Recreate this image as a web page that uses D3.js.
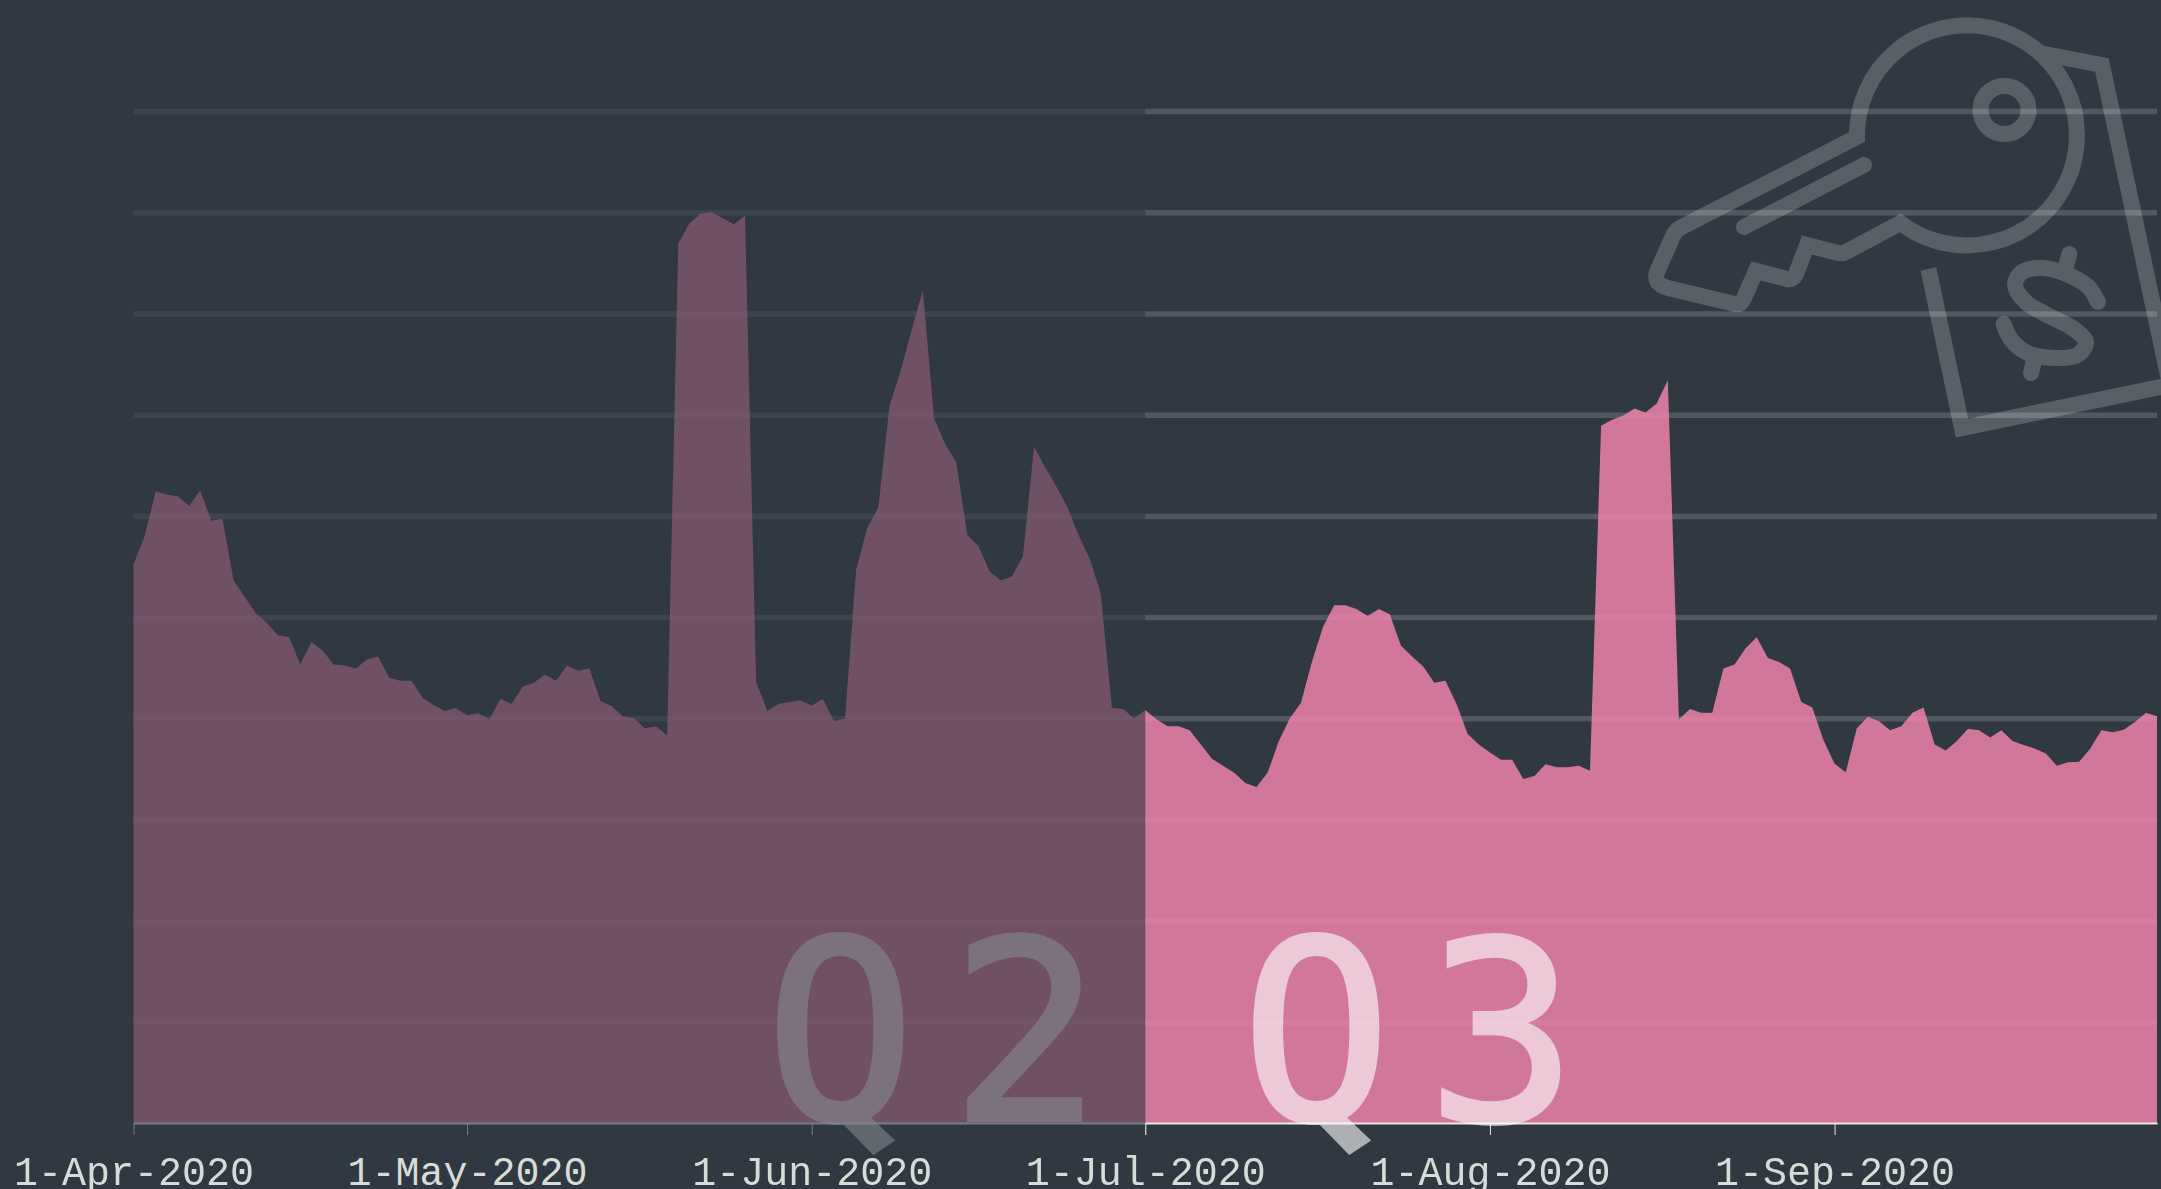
<!DOCTYPE html>
<html>
<head>
<meta charset="utf-8">
<script src="https://cdnjs.cloudflare.com/ajax/libs/d3/7.8.5/d3.min.js"></script>
<style>
html,body{margin:0;padding:0;background:#303842;overflow:hidden;}
svg{display:block;}
</style>
</head>
<body>
<svg id="chart" width="2161" height="1189"></svg>
<script>
const q2Start = "2020-04-01";
const q3Start = "2020-07-01";
const q3End = "2020-09-30";
const tickDates = ["2020-04-01","2020-05-01","2020-06-01","2020-07-01","2020-08-01","2020-09-01"];
const gridValues = [10,20,30,40,50,60,70,80,90,100];
const q2Values = [55.2,58.0,62.4,62.1,61.9,61.0,62.5,59.5,59.7,53.6,52.0,50.4,49.4,48.2,48.0,45.3,47.5,46.7,45.3,45.2,44.9,45.8,46.1,44.0,43.7,43.7,42.0,41.3,40.7,41.0,40.3,40.5,39.9,41.9,41.4,43.1,43.5,44.3,43.7,45.2,44.7,44.9,41.7,41.2,40.2,40.0,39.0,39.2,38.3,86.9,88.9,89.85,90.0,89.4,88.8,89.66,43.6,40.7,41.4,41.6,41.75,41.25,41.9,39.7,40.0,54.7,58.8,60.85,70.9,74.3,78.4,82.3,69.65,67.1,65.3,58.1,57.0,54.5,53.6,54.0,56.0,66.8,64.8,62.9,60.85,58.1,55.8,52.3,41.0,40.9,40.0,40.8];
const q3Values = [40.8,39.9,39.2,39.2,38.8,37.4,36.0,35.3,34.6,33.6,33.2,34.6,37.7,40.0,41.5,45.6,49.05,51.15,51.15,50.8,50.1,50.8,50.27,47.15,46.1,45.1,43.5,43.7,41.4,38.45,37.4,36.6,35.9,35.9,34.0,34.3,35.45,35.15,35.15,35.3,34.8,68.9,69.5,69.9,70.6,70.2,71.1,73.4,39.9,40.9,40.55,40.55,44.9,45.3,46.9,48.0,45.95,45.55,44.9,41.6,41.05,37.85,35.5,34.65,39.0,40.15,39.7,38.8,39.2,40.55,41.05,37.4,36.8,37.75,38.95,38.8,38.1,38.8,37.75,37.35,37.0,36.5,35.3,35.65,35.7,37.0,38.8,38.6,38.85,39.6,40.55,40.2];
const q2Label = "Q2";
const q3Label = "Q3";
const pink = "#ee82ac";
const keyStroke = 16;

const parse = d3.utcParse("%Y-%m-%d");
const fmt = d => `${d.getUTCDate()}-${d3.utcFormat("%b-%Y")(d)}`;
const x = d3.scaleUtc().domain([parse(q2Start), parse(q3End)]).range([133.5, 2157]);
const y = d3.scaleLinear().domain([0, 100]).range([1123, 111]);
const xQ2 = x.copy().domain([parse(q2Start), parse(q3Start)]).range([x(parse(q2Start)), x(parse(q3Start))]);
const xQ3 = x.copy().domain([parse(q3Start), parse(q3End)]).range([x(parse(q3Start)), x(parse(q3End))]);

const rows = (start, vals) => vals.map((v, i) => ({date: d3.utcDay.offset(parse(start), i), v}));
const area = d3.area().x(d => x(d.date)).y0(y(0)).y1(d => y(d.v));
const svg = d3.select("#chart");

function quarter(opacity, start, vals, scale, label, labelX) {
  const g = svg.append("g").attr("opacity", opacity);
  g.append("g").attr("transform", "translate(0,0.6)").selectAll("line").data(gridValues).join("line")
    .attr("x1", scale.range()[0]).attr("x2", scale.range()[1])
    .attr("y1", d => y(d)).attr("y2", d => y(d))
    .attr("stroke", "#fff").attr("stroke-opacity", 0.165).attr("stroke-width", 5.5);
  g.append("path").datum(rows(start, vals)).attr("d", area).attr("fill", pink).attr("fill-opacity", 0.85);
  const ax = d3.axisBottom(scale)
    .tickValues(tickDates.map(parse).filter(d => d >= scale.domain()[0] && d <= scale.domain()[1]))
    .tickSize(12).tickSizeOuter(0).tickFormat("");
  const axg = g.append("g").attr("transform", `translate(0,${y(0)})`).call(ax);
  axg.select(".domain").attr("stroke", "#e8e8e8").attr("stroke-width", 2);
  axg.selectAll(".tick line").attr("stroke", "#e8e8e8").attr("stroke-width", 1);
  g.append("text").text(label)
    .attr("x", labelX).attr("y", 1120)
    .attr("fill", "#fff").attr("stroke", "#fff").attr("stroke-width", 4).attr("opacity", 0.6)
    .attr("font-family", "'DejaVu Sans Mono', monospace")
    .attr("letter-spacing", 35)
    .attr("font-size", 250);
}

quarter(0.4, q2Start, q2Values, xQ2, q2Label, 765);
quarter(1, q3Start, q3Values, xQ3, q3Label, 1241);

// tick labels
const labelAxis = d3.axisBottom(x).tickValues(tickDates.map(parse)).tickSize(0).tickFormat(fmt);
const lg = svg.append("g").attr("transform", `translate(0,${y(0)})`).call(labelAxis);
lg.select(".domain").remove();
lg.selectAll("text").attr("y", 0).attr("dy", 0)
  .attr("transform", "translate(0,62)")
  .attr("fill", "#d8dcd8")
  .attr("font-family", "'Liberation Mono', monospace")
  .attr("font-size", 40);

// key and price-tag icon
const icon = svg.append("g").attr("fill", "none").attr("stroke", "#fff").attr("opacity", 0.2).attr("stroke-width", keyStroke);
icon.append("path").attr("stroke-linejoin", "miter")
  .attr("d", "M1857,137 L1680,228 Q1675,231 1673,236 L1657,272 Q1653,284 1668,288 L1735,304 Q1741,305 1744,298 L1756,271 L1787,279 Q1793,280 1796,274 L1807,245 L1838,253 Q1843,254 1846,252 L1900.5,223 A110,110 0 1 0 1857,137 Z");
icon.append("path").attr("stroke-linecap", "round").attr("d", "M1744,227 L1864,165");
icon.append("circle").attr("cx", 2004.5).attr("cy", 110).attr("r", 24);
icon.append("path").attr("stroke-linejoin", "miter")
  .attr("d", "M2042,53.5 L2102,65 L2170,385 L1962,428 L1928.4,269");
const sPts = [[2098,302],[2088.4,287],[2068.7,275],[2043.7,268],[2022,272],[2015,285],[2025.8,302],[2047.2,315],[2072.3,328],[2086,342],[2077.7,355],[2054.4,358],[2027.6,353],[2011.4,340],[2003.6,324]];
icon.append("path").attr("stroke-linecap", "round")
  .attr("d", d3.line().curve(d3.curveCatmullRom.alpha(0.5))(sPts));
icon.append("path").attr("stroke-linecap", "round").attr("d", "M2069.4,254 L2065,270");
icon.append("path").attr("stroke-linecap", "round").attr("d", "M2034.7,358 L2031,373");
</script>
</body>
</html>
